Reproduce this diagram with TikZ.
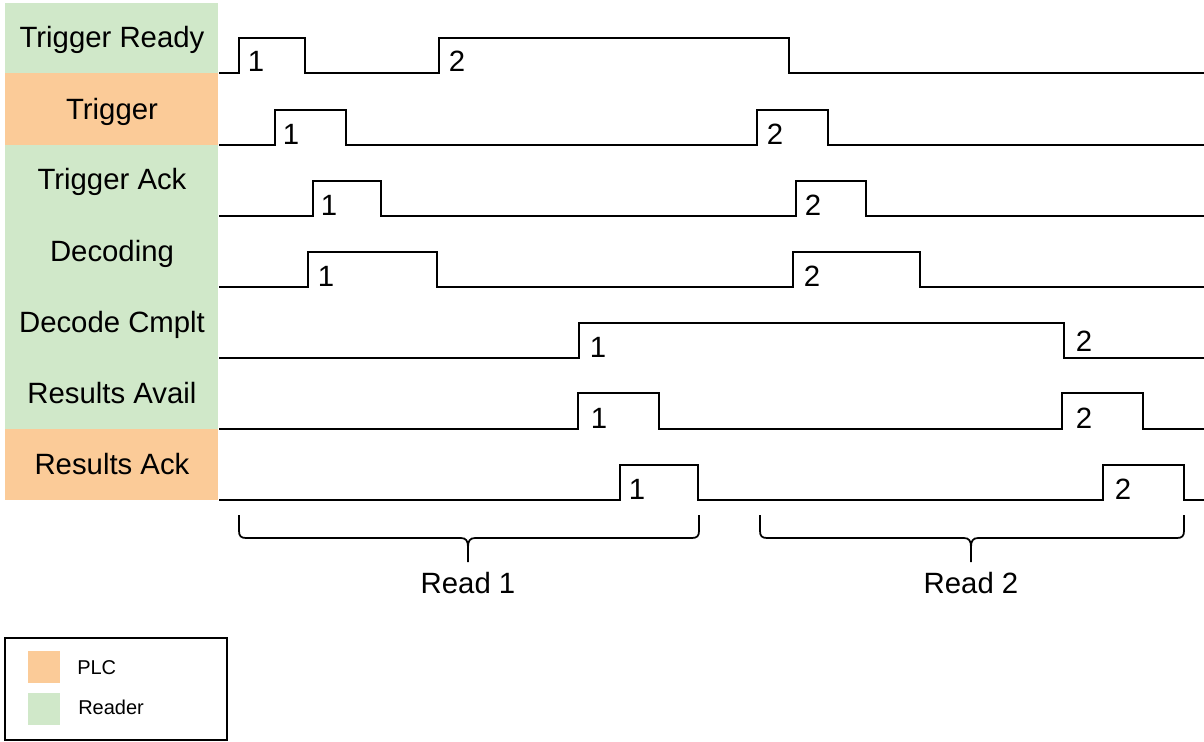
\documentclass[tikz,border=0pt]{standalone}
\usepackage{fontspec}
\setmainfont{Liberation Sans}
\definecolor{readergreen}{RGB}{208,232,201}
\definecolor{plcorange}{RGB}{251,203,152}
\begin{document}
\begin{tikzpicture}[x=0.75pt,y=-0.75pt,
  lbl/.style={font=\fontsize{22}{24}\selectfont, anchor=base, inner sep=0pt},
  num/.style={font=\fontsize{22}{24}\selectfont, anchor=base, inner sep=0pt},
  sig/.style={line width=1.8pt, line join=miter},
  brace/.style={line width=1.3pt},
  leg/.style={font=\fontsize{15}{18}\selectfont, anchor=west, inner sep=0pt}]
\useasboundingbox (0,0) rectangle (1204,742);
% row backgrounds
\fill[readergreen] (5,3) rectangle (218,73);
\fill[plcorange] (5,73) rectangle (218,145);
\fill[readergreen] (5,145) rectangle (218,429);
\fill[plcorange] (5,429) rectangle (218,500);
% row labels
\node[lbl] (lTR) at (112,48) {Trigger Ready};
\node[lbl] (lTr) at (112,119) {Trigger};
\node[lbl] (lTA) at (112,190) {Trigger Ack};
\node[lbl] (lDe) at (112,261) {Decoding};
\node[lbl] (lDC) at (112,332) {Decode Cmplt};
\node[lbl] (lRAv) at (112,403) {Results Avail};
\node[lbl] (lRAk) at (112,474) {Results Ack};
% waveforms
\draw[sig] (219,73) -| (239,38) -| (305,73) -| (439,38) -| (789,73) -- (1204,73);
\draw[sig] (219,145) -| (275,110) -| (346,145) -| (757,110) -| (828,145) -- (1204,145);
\draw[sig] (219,216) -| (313,181) -| (381,216) -| (796,181) -| (866,216) -- (1204,216);
\draw[sig] (219,287) -| (308,252) -| (437,287) -| (793,252) -| (920,287) -- (1204,287);
\draw[sig] (219,358) -| (579,323) -| (1064,358) -- (1204,358);
\draw[sig] (219,429) -| (578,393) -| (659,429) -| (1062,393) -| (1143,429) -- (1204,429);
\draw[sig] (219,500) -| (620,465) -| (698,500) -| (1103,465) -| (1184,500) -- (1204,500);
% numbers
\node[num] (n11) at (256,72) {1};
\node[num] (n12) at (457,72) {2};
\node[num] (n21) at (291,144) {1};
\node[num] (n22) at (775,144) {2};
\node[num] (n31) at (329,215) {1};
\node[num] (n32) at (813,215) {2};
\node[num] (n41) at (326,286) {1};
\node[num] (n42) at (812,286) {2};
\node[num] (n51) at (598,357) {1};
\node[num] (n52) at (1084,351) {2};
\node[num] (n61) at (599,428) {1};
\node[num] (n62) at (1084,428) {2};
\node[num] (n71) at (637,499) {1};
\node[num] (n72) at (1123,499) {2};
% braces
\draw[brace] (239,515) -- (239,531) .. controls (239,536) and (241,538) .. (246,538)
  -- (461,538) .. controls (466,538) and (468,541) .. (468,547) -- (468,562)
  -- (468,547) .. controls (468,541) and (470,538) .. (475,538)
  -- (692,538) .. controls (697,538) and (699,536) .. (699,531) -- (699,515);
\draw[brace] (760,515) -- (760,531) .. controls (760,536) and (762,538) .. (767,538)
  -- (964,538) .. controls (969,538) and (971,541) .. (971,547) -- (971,562)
  -- (971,547) .. controls (971,541) and (973,538) .. (978,538)
  -- (1177,538) .. controls (1182,538) and (1184,536) .. (1184,531) -- (1184,515);
\node[lbl] (r1) at (468,593) {Read 1};
\node[lbl] (r2) at (971,593) {Read 2};
% legend
\draw[line width=1.5pt] (5,638) rectangle (227,740);
\fill[plcorange] (28,651) rectangle (60,683);
\fill[readergreen] (28,693) rectangle (60,725);
\node[leg] (lp) at (77,668) {PLC};
\node[leg] (lr) at (78,707) {Reader};
\end{tikzpicture}
\end{document}
